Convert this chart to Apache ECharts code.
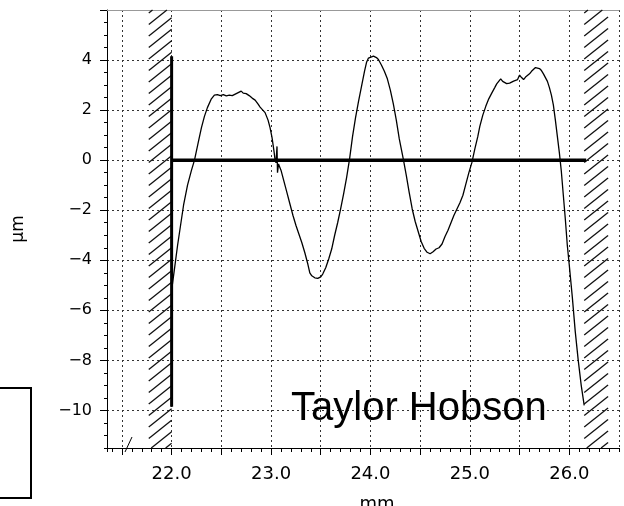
<!DOCTYPE html>
<html><head><meta charset="utf-8">
<script src="https://cdn.jsdelivr.net/npm/echarts@6/dist/echarts.min.js"></script>
<style>html,body{margin:0;padding:0;background:#fff}#c{width:624px;height:506px}</style>
</head><body><div id="c"></div>
<script>
// ---- data ----
const profileMm = [22.00,22.03,22.06,22.09,22.12,22.16,22.20,22.23,22.27,22.30,22.33,22.36,22.40,22.43,22.46,22.49,22.52,22.55,22.58,22.61,22.64,22.67,22.70,22.72,22.75,22.78,22.81,22.84,22.87,22.89,22.91,22.94,22.97,22.99,23.01,23.03,23.04,23.05,23.06,23.065,23.075,23.09,23.10,23.13,23.16,23.19,23.22,23.25,23.28,23.31,23.34,23.37,23.39,23.41,23.44,23.47,23.50,23.52,23.55,23.58,23.61,23.64,23.67,23.70,23.73,23.76,23.79,23.82,23.85,23.88,23.91,23.94,23.96,23.98,24.00,24.03,24.06,24.08,24.11,24.14,24.17,24.20,24.23,24.26,24.29,24.32,24.33,24.36,24.39,24.42,24.45,24.48,24.51,24.54,24.57,24.60,24.63,24.66,24.69,24.72,24.75,24.78,24.81,24.84,24.87,24.90,24.93,24.96,24.99,25.02,25.05,25.08,25.10,25.13,25.16,25.19,25.22,25.25,25.27,25.29,25.31,25.33,25.35,25.37,25.40,25.42,25.44,25.46,25.48,25.50,25.52,25.54,25.56,25.58,25.60,25.62,25.64,25.66,25.68,25.70,25.72,25.74,25.76,25.78,25.80,25.82,25.84,25.86,25.88,25.90,25.92,25.94,25.96,25.98,26.00,26.03,26.06,26.09,26.12,26.15];
const profileUm = [-5.2,-4.3,-3.4,-2.6,-1.8,-1.0,-0.4,0.0,0.75,1.3,1.75,2.1,2.45,2.6,2.62,2.58,2.62,2.57,2.6,2.58,2.64,2.7,2.76,2.68,2.66,2.58,2.48,2.4,2.24,2.12,2.05,1.9,1.6,1.3,0.9,0.35,0.02,-0.1,0.55,-0.5,-0.15,-0.3,-0.4,-0.85,-1.3,-1.75,-2.2,-2.6,-2.95,-3.3,-3.7,-4.15,-4.5,-4.62,-4.7,-4.72,-4.66,-4.55,-4.3,-3.95,-3.55,-3.0,-2.5,-1.95,-1.35,-0.7,0.05,0.95,1.7,2.35,2.95,3.55,3.9,4.08,4.14,4.16,4.1,4.02,3.8,3.55,3.25,2.8,2.25,1.6,0.85,0.25,0.05,-0.6,-1.3,-1.95,-2.45,-2.85,-3.25,-3.52,-3.68,-3.74,-3.66,-3.55,-3.5,-3.35,-3.05,-2.8,-2.5,-2.2,-1.95,-1.7,-1.4,-0.95,-0.5,-0.1,0.45,0.95,1.35,1.8,2.15,2.45,2.68,2.9,3.05,3.15,3.25,3.15,3.12,3.06,3.08,3.12,3.16,3.12,3.22,3.4,3.3,3.22,3.32,3.28,3.45,3.55,3.6,3.7,3.74,3.66,3.58,3.45,3.3,3.15,2.9,2.6,2.2,1.6,0.95,0.3,-0.45,-1.4,-2.35,-3.4,-4.2,-5.45,-6.85,-8.0,-9.0,-9.8];
const xTickValues = [22, 23, 24, 25, 26];
const xTickLabels = ['22.0', '23.0', '24.0', '25.0', '26.0'];
const yTickValues = [-10, -8, -6, -4, -2, 0, 2, 4];
const yTickLabels = ['\u221210', '\u22128', '\u22126', '\u22124', '\u22122', '0', '2', '4'];
const hatchFrom = [21.77, 26.15];
const hatchTo = [22.0, 26.39];
const datumX = [22.0, 22.0];
const datumY = [-9.85, 4.15];
const baselineX = [22.0, 26.17];
const baselineY = [0, 0];
const xRange = [21.35, 26.5];
const yRange = [-11.5, 6];
const xName = 'mm';
const yName = '\u00b5m';
const brandText = 'Taylor Hobson';

// ---- chart ----
const chart = echarts.init(document.getElementById('c'), null, {renderer: 'canvas'});
const FONT = 'DejaVu Sans';
const zip = (a, b) => a.map((v, i) => [v, b[i]]);
function labelFor(values, labels, v) {
  for (let i = 0; i < values.length; i++) if (Math.abs(values[i] - v) < 1e-6) return labels[i];
  return '';
}
const gridStyle = {show: true, lineStyle: {color: '#333', width: 1, type: [2, 3]}};

function renderHatch(params, api) {
  const x0 = api.value(0), x1 = api.value(1);
  const tl = api.coord([x0, api.value(3)]);
  const br = api.coord([x1, api.value(2)]);
  const xL = tl[0], xR = br[0], yT = tl[1], yB = br[1];
  const s = 0.8, step = 11.5, w = xR - xL;
  const children = [];
  for (let c = yT + 3; c < yB + s * w; c += step) {
    const xa = Math.max(xL, xL + (c - yB) / s);
    const xb = Math.min(xR, xL + (c - yT) / s);
    if (xb - xa < 0.5) continue;
    children.push({
      type: 'line',
      shape: {x1: xa, y1: c - s * (xa - xL), x2: xb, y2: c - s * (xb - xL)},
      style: {stroke: '#111', lineWidth: 1.3}
    });
  }
  return {type: 'group', children};
}

const option = {
  animation: false,
  backgroundColor: '#fff',
  grid: {left: 107, right: 5, top: 10, bottom: 58, containLabel: false, outerBoundsMode: 'none'},
  xAxis: [
    {
      type: 'value', position: 'bottom', min: xRange[0], max: xRange[1],
      minInterval: 0.5, maxInterval: 0.5, splitNumber: 10,
      name: xName, nameLocation: 'middle', nameGap: 47,
      nameTextStyle: {fontFamily: FONT, fontSize: 18, color: '#000', padding: [0, 0, 0, 28]},
      axisLine: {show: true, onZero: false, lineStyle: {color: '#000', width: 1}},
      axisTick: {show: true, length: 7, lineStyle: {color: '#000'}},
      axisLabel: {
        show: true, margin: 17, fontFamily: FONT, fontSize: 18, color: '#000',
        showMinLabel: false, showMaxLabel: false,
        formatter: v => labelFor(xTickValues, xTickLabels, v)
      },
      splitLine: gridStyle
    },
    {
      type: 'value', position: 'bottom', min: xRange[0], max: xRange[1],
      minInterval: 0.1, maxInterval: 0.1, splitNumber: 50,
      axisLine: {show: false, onZero: false},
      axisTick: {show: true, length: 4, lineStyle: {color: '#000'}},
      axisLabel: {show: false}, splitLine: {show: false}
    },
    {
      type: 'value', position: 'top', min: xRange[0], max: xRange[1],
      axisLine: {show: true, onZero: false, lineStyle: {color: '#999', width: 1}},
      axisTick: {show: false}, axisLabel: {show: false}, splitLine: {show: false}
    }
  ],
  yAxis: [
    {
      type: 'value', position: 'left', min: yRange[0], max: yRange[1],
      minInterval: 2, maxInterval: 2, splitNumber: 9,
      name: yName, nameLocation: 'middle', nameGap: 80,
      nameTextStyle: {fontFamily: FONT, fontSize: 17, color: '#000'},
      axisLine: {show: true, onZero: false, lineStyle: {color: '#000', width: 1}},
      axisTick: {show: true, length: 7, lineStyle: {color: '#000'}},
      axisLabel: {
        show: true, margin: 15, fontFamily: FONT, fontSize: 16, color: '#000',
        showMinLabel: false,
        formatter: v => labelFor(yTickValues, yTickLabels, v)
      },
      splitLine: gridStyle
    },
    {
      type: 'value', position: 'left', min: yRange[0], max: yRange[1], interval: 0.5,
      axisLine: {show: false, onZero: false},
      axisTick: {show: true, length: 3, lineStyle: {color: '#000'}},
      axisLabel: {show: false}, splitLine: {show: false}
    }
  ],
  series: [
    {
      type: 'custom', xAxisIndex: 0, yAxisIndex: 0, z: 2, silent: true,
      renderItem: renderHatch,
      encode: {x: [0, 1], y: [2, 3]},
      data: hatchFrom.map((a, i) => [a, hatchTo[i], yRange[0], yRange[1]])
    },
    {
      type: 'line', xAxisIndex: 0, yAxisIndex: 0, z: 3, symbol: 'none', silent: true,
      lineStyle: {color: '#000', width: 3},
      data: zip(datumX, datumY)
    },
    {
      type: 'line', xAxisIndex: 0, yAxisIndex: 0, z: 3, symbol: 'none', silent: true,
      lineStyle: {color: '#000', width: 3.5},
      data: zip(baselineX, baselineY)
    },
    {
      type: 'line', xAxisIndex: 0, yAxisIndex: 0, z: 4, symbol: 'none', silent: true,
      lineStyle: {color: '#000', width: 1.3},
      data: zip(profileMm, profileUm)
    }
  ],
  graphic: [
    {
      type: 'text', left: 291, top: 389, z: 10,
      style: {text: brandText, fontFamily: 'Liberation Sans', fontSize: 40, fill: '#000'}
    },
    {
      type: 'polyline', z: 10,
      shape: {points: [[0, 388], [31, 388], [31, 498], [0, 498]]},
      style: {stroke: '#000', lineWidth: 2, fill: null}
    },
    {
      type: 'line', z: 10,
      shape: {x1: 125, y1: 452, x2: 132, y2: 437},
      style: {stroke: '#000', lineWidth: 1}
    }
  ]
};
chart.setOption(option);
</script>
</body></html>
